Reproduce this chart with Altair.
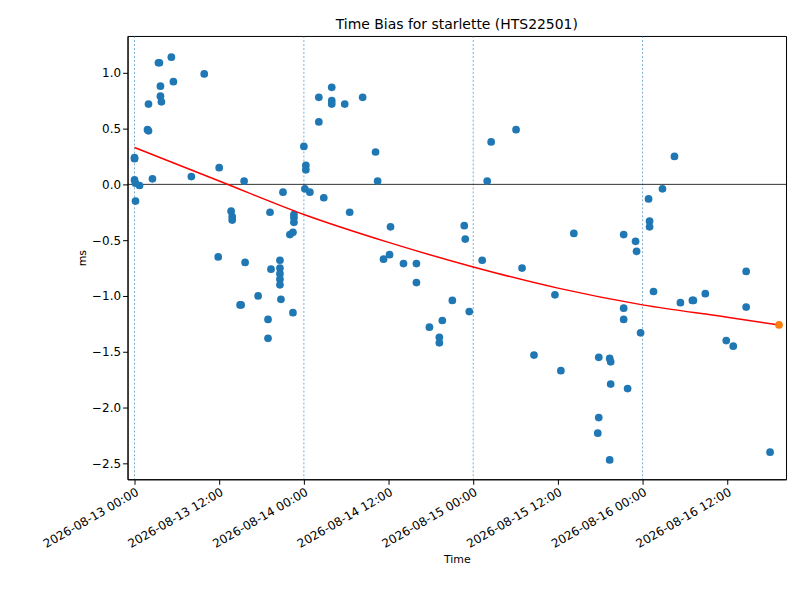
import altair as alt
import pandas as pd

# hours since 2026-08-13 00:00, bias in ms
px_x = [131,131,131,132,132,136,144,145,145,149,155,156,157,157,158,168,170,188,201,215,216,228,229,229,237,238,241,242,255,265,265,267,268,277,277,277,277,277,278,280,287,290,290,291,291,291,301,303,303,302,307,316,316,321,329,329,329,342,347,360,373,375,381,387,388,401,414,414,427,437,437,440,450,462,463,467,480,485,489,514,520,532,553,559,572,597,597,596,608,609,609,608,622,622,622,626,634,635,639,647,648,648,652,661,673,679,691,692,704,725,732,745,745,769]
bias = [0.24,0.23,0.04,0.01,-0.15,-0.01,0.49,0.48,0.72,0.05,1.09,1.09,0.88,0.79,0.74,1.14,0.92,0.07,0.99,-0.65,0.15,-0.24,-0.29,-0.32,-1.08,-1.08,0.03,-0.70,-1.00,-1.21,-1.38,-0.25,-0.76,-0.68,-0.75,-0.80,-0.85,-0.90,-1.03,-0.07,-0.45,-0.43,-1.15,-0.27,-0.30,-0.34,0.34,0.17,0.13,-0.04,-0.07,0.78,0.56,-0.12,0.87,0.75,0.72,0.72,-0.25,0.78,0.29,0.03,-0.67,-0.63,-0.38,-0.71,-0.71,-0.88,-1.28,-1.37,-1.42,-1.22,-1.04,-0.37,-0.49,-1.14,-0.68,0.03,0.38,0.49,-0.75,-1.53,-0.99,-1.67,-0.44,-1.55,-2.09,-2.23,-1.56,-1.59,-1.79,-2.47,-0.45,-1.11,-1.21,-1.83,-0.51,-0.60,-1.33,-0.13,-0.33,-0.38,-0.96,-0.04,0.25,-1.06,-1.04,-1.04,-0.98,-1.40,-1.45,-0.78,-1.10,-2.40]
hours = [round((p - 131) / 170 * 24, 2) for p in px_x]

fit_hours = [0, 12, 24, 36, 48, 60, 72, 84, 91.34]
fit_vals = [0.33, 0.03, -0.27, -0.52, -0.74, -0.93, -1.08, -1.19, -1.26]
last_h = [91.34]
last_v = [-1.26]
day_lines = [0, 24, 48, 72]

pts = pd.DataFrame({"h": hours, "v": bias})
fit = pd.DataFrame({"h": fit_hours, "v": fit_vals})
last = pd.DataFrame({"h": last_h, "v": last_v})
vl = pd.DataFrame({"h": day_lines})
zero = pd.DataFrame({"v": [0]})

xs = alt.Scale(domain=[-0.99, 92.33], nice=False, zero=False)
ys = alt.Scale(domain=[-2.643, 1.33], nice=False, zero=False)
xax = alt.Axis(values=[0, 12, 24, 36, 48, 60, 72, 84], grid=False, labelAngle=330,
               labelAlign="right", labelBaseline="top", title="Time", labelOverlap=False,
               labelExpr="timeFormat(datetime(2026,7,13,datum.value,0), '%Y-%m-%d %H:%M')")
yax = alt.Axis(values=[-2.5, -2, -1.5, -1, -0.5, 0, 0.5, 1], format=".1f", grid=False, title="ms")

base_x = alt.X("h:Q", scale=xs, axis=xax)

vlines = alt.Chart(vl).mark_rule(color="#1f77b4", strokeDash=[2, 2], strokeWidth=0.6).encode(x=base_x)
hline = alt.Chart(zero).mark_rule(color="black", strokeWidth=0.8).encode(y=alt.Y("v:Q", scale=ys, axis=yax))
points = alt.Chart(pts).mark_circle(size=60, color="#1f77b4", opacity=1).encode(x=base_x, y=alt.Y("v:Q", scale=ys, axis=yax))
line = alt.Chart(fit).mark_line(color="red", strokeWidth=1.5, interpolate="monotone").encode(x=base_x, y=alt.Y("v:Q", scale=ys, axis=yax))
lastp = alt.Chart(last).mark_circle(size=60, color="#ff7f0e", opacity=1).encode(x=base_x, y=alt.Y("v:Q", scale=ys, axis=yax))

chart = alt.layer(vlines, hline, points, line, lastp).properties(
    width=661, height=445,
    padding={"left": 32, "top": 8, "right": 5, "bottom": 5},
    title=alt.TitleParams("Time Bias for starlette (HTS22501)", fontSize=14, fontWeight="normal", font="DejaVu Sans"),
).configure_axis(labelFont="DejaVu Sans", titleFont="DejaVu Sans", labelFontSize=12, titleFontSize=11,
                 titleFontWeight="normal", labelColor="black", titleColor="black", domainColor="black", tickColor="black"
).configure_view(stroke="black")

chart.save("out.html", embed_options={"renderer": "svg", "actions": False})
